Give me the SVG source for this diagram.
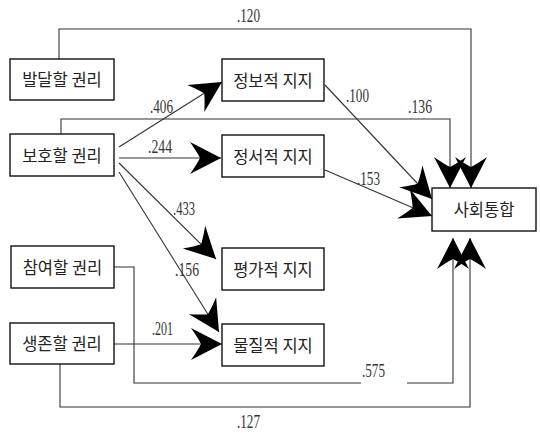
<svg xmlns="http://www.w3.org/2000/svg" width="540" height="433" viewBox="0 0 540 433">
<defs>
<marker id="ah" markerUnits="userSpaceOnUse" viewBox="-32 -17 34 34" markerWidth="34" markerHeight="34" refX="0" refY="0" orient="auto">
<path d="M0,0 L-31,-16 Q-24,-6 -21,0 Q-24,6 -31,16 Z" fill="#000"/>
</marker>
<style>
.box{fill:#fff;stroke:#111;stroke-width:1.4}
.lbl{font-family:"Noto Sans CJK KR","Noto Sans",sans-serif;font-size:16.5px;fill:#222;text-anchor:middle}
.num{font-family:"Liberation Serif",serif;font-size:18px;fill:#333}
.c{fill:none;stroke:#333;stroke-width:1.1}
.a{marker-end:url(#ah)}
</style>
</defs>
<rect width="540" height="433" fill="#fff"/>
<g id="connectors">
<path class="c a" d="M59,59 V29 H471 V188"/>
<path class="c a" d="M61,134 V119 H450 V188"/>
<path class="c a" d="M119,147 L222,82"/>
<path class="c a" d="M119,158 L221,158"/>
<path class="c a" d="M119,163 L216,259"/>
<path class="c a" d="M119,172 L219,332"/>
<path class="c a" d="M114,344 L222,344"/>
<path class="c a" d="M325,85 L432,199"/>
<path class="c a" d="M325,170 L432,216"/>
<path class="c a" d="M114,267 H134 V383 H361 M407,383 H453 V238"/>
<path class="c a" d="M60,364 V407 H470 V238"/>
<text class="num" x="237" y="22" textLength="23" lengthAdjust="spacingAndGlyphs">.120</text>
<text class="num" x="150" y="113" textLength="23" lengthAdjust="spacingAndGlyphs">.406</text>
<text class="num" x="148" y="153" textLength="24" lengthAdjust="spacingAndGlyphs">.244</text>
<text class="num" x="173" y="215" textLength="22" lengthAdjust="spacingAndGlyphs">.433</text>
<text class="num" x="175" y="276" textLength="24" lengthAdjust="spacingAndGlyphs">.156</text>
<text class="num" x="152" y="335" textLength="21" lengthAdjust="spacingAndGlyphs">.201</text>
<text class="num" x="346" y="102" textLength="23" lengthAdjust="spacingAndGlyphs">.100</text>
<text class="num" x="408" y="113" textLength="24" lengthAdjust="spacingAndGlyphs">.136</text>
<text class="num" x="357" y="185" textLength="23" lengthAdjust="spacingAndGlyphs">.153</text>
<text class="num" x="362" y="377" textLength="23" lengthAdjust="spacingAndGlyphs">.575</text>
<text class="num" x="237" y="428" textLength="23" lengthAdjust="spacingAndGlyphs">.127</text>
</g>
<g id="n-baldal"><rect class="box" x="10" y="59" width="104" height="41"/><text class="lbl" x="62" y="86">발달할 권리</text></g>
<g id="n-boho"><rect class="box" x="10" y="134" width="104" height="42"/><text class="lbl" x="62" y="161.5">보호할 권리</text></g>
<g id="n-chamyeo"><rect class="box" x="11" y="246" width="103" height="42"/><text class="lbl" x="62.5" y="273.5">참여할 권리</text></g>
<g id="n-saengjon"><rect class="box" x="10" y="323" width="104" height="41"/><text class="lbl" x="62" y="350">생존할 권리</text></g>
<g id="n-jeongbo"><rect class="box" x="222" y="59" width="102" height="42"/><text class="lbl" x="273" y="86.5">정보적 지지</text></g>
<g id="n-jeongseo"><rect class="box" x="222" y="135" width="102" height="42"/><text class="lbl" x="273" y="162.5">정서적 지지</text></g>
<g id="n-pyeongga"><rect class="box" x="222" y="248" width="102" height="42"/><text class="lbl" x="273" y="275.5">평가적 지지</text></g>
<g id="n-muljil"><rect class="box" x="222" y="324" width="102" height="42"/><text class="lbl" x="273" y="351.5">물질적 지지</text></g>
<g id="n-sahoe"><rect class="box" x="432" y="188" width="104" height="43"/><text class="lbl" x="484" y="216">사회통합</text></g>
</svg>
